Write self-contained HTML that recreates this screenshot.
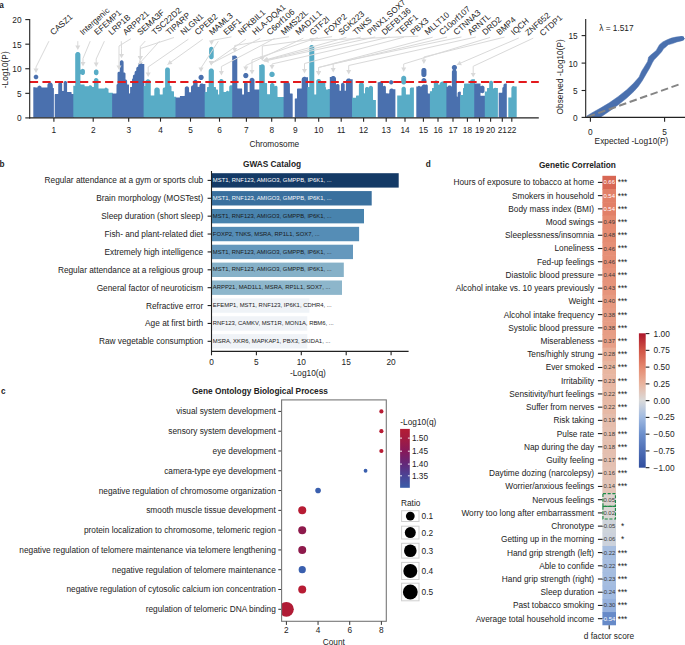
<!DOCTYPE html>
<html><head><meta charset="utf-8"><style>
html,body{margin:0;padding:0;background:#fff;}
svg{display:block;}
text{font-family:"Liberation Sans", sans-serif;}
</style></head><body>
<svg width="685" height="645" viewBox="0 0 685 645">
<rect x="0" y="0" width="685" height="645" fill="#fff"/>
<g id="manh">
<path d="M33.72,77.25 L33.81,77.70 L33.99,78.11 L34.24,78.48 L34.56,78.80 L34.94,79.04 L35.36,79.21 L35.80,79.29 L36.25,79.28 L36.70,79.19 L37.11,79.01 L37.48,78.76 L37.80,78.44 L38.04,78.06 L38.21,77.64 L38.29,77.20 L38.28,76.75 L38.19,76.30 L38.01,75.89 L37.76,75.52 L37.44,75.20 L37.06,74.96 L36.64,74.79 L36.20,74.71 L35.75,74.72 L35.30,74.81 L34.89,74.99 L34.52,75.24 L34.20,75.56 L33.96,75.94 L33.79,76.36 L33.71,76.80Z M54.88,94.18 L54.72,94.44 L54.70,94.60 L54.70,116.80 L54.72,116.96 L54.88,117.22 L55.14,117.38 L55.30,117.40 L74.00,117.40 L74.00,94.00 L71.97,94.00 L71.74,93.93 L71.60,93.67 L71.58,92.54 L71.42,92.28 L71.16,92.12 L67.47,92.10 L67.17,91.96 L67.10,91.73 L67.09,82.56 L66.96,82.02 L66.58,81.48 L66.23,81.22 L65.86,81.07 L65.43,81.00 L64.94,81.07 L64.57,81.22 L64.22,81.48 L63.97,81.78 L63.78,82.18 L63.70,82.71 L63.70,90.63 L63.62,90.87 L63.40,90.99 L62.45,90.99 L62.23,90.87 L62.16,90.70 L62.15,84.14 L62.07,83.61 L61.90,83.21 L61.69,82.89 L61.31,82.55 L60.92,82.34 L60.42,82.21 L59.98,82.21 L59.48,82.34 L59.09,82.55 L58.80,82.79 L58.41,83.38 L58.26,83.99 L58.22,93.78 L58.11,93.93 L57.92,94.00 L55.30,94.00 L55.14,94.02Z M33.30,117.40 L53.30,117.40 L53.60,117.32 L53.82,117.10 L53.90,116.80 L53.90,88.60 L53.82,88.30 L53.60,88.08 L53.02,87.97 L52.83,87.79 L52.80,85.19 L52.69,84.44 L52.47,83.90 L52.17,83.47 L51.79,83.10 L51.35,82.81 L50.86,82.61 L50.39,82.52 L49.54,82.56 L48.80,82.83 L48.37,83.13 L48.03,83.47 L47.71,83.95 L47.46,84.64 L47.40,85.21 L47.40,87.27 L47.32,87.47 L47.10,87.59 L41.80,87.59 L41.63,87.52 L41.53,87.39 L41.48,86.85 L41.24,86.50 L40.83,86.34 L40.47,85.96 L40.18,85.76 L39.53,85.60 L39.18,85.64 L38.82,85.76 L38.53,85.96 L38.17,86.34 L37.76,86.50 L37.52,86.85 L37.47,87.39 L37.37,87.52 L37.20,87.59 L35.66,87.60 L35.12,87.31 L34.82,87.22 L33.30,87.20Z" fill="#4a70ae"/>
<path d="M93.90,72.91 L93.99,73.54 L94.19,74.01 L94.55,74.50 L94.95,74.83 L95.50,75.09 L96.00,75.19 L96.68,75.15 L97.26,74.94 L97.68,74.66 L98.00,74.34 L98.31,73.81 L98.45,73.38 L98.50,72.89 L98.49,71.50 L98.41,71.06 L98.24,70.64 L98.00,70.26 L97.68,69.94 L97.31,69.69 L96.90,69.51 L96.45,69.42 L96.00,69.41 L95.56,69.49 L95.14,69.66 L94.76,69.90 L94.44,70.22 L94.07,70.85 L93.91,71.50Z M73.30,117.40 L112.80,117.40 L112.80,92.70 L108.87,92.70 L108.63,92.62 L108.50,92.33 L108.50,89.20 L108.42,88.90 L108.32,88.78 L108.06,88.62 L107.49,88.56 L106.97,87.96 L106.41,87.66 L105.88,87.61 L105.40,87.73 L104.96,88.02 L104.59,88.51 L104.38,88.60 L98.87,88.60 L98.63,88.52 L98.50,88.23 L98.46,79.98 L98.31,79.49 L97.96,78.92 L97.45,78.47 L96.84,78.19 L96.40,78.11 L95.95,78.12 L95.14,78.36 L94.76,78.60 L94.44,78.92 L94.07,79.55 L93.94,79.98 L93.90,80.41 L93.90,86.63 L93.83,86.86 L93.68,86.97 L92.42,86.97 L92.28,86.85 L91.95,86.17 L91.59,85.77 L91.04,85.44 L90.47,85.31 L89.88,85.35 L89.38,85.52 L89.01,85.77 L88.57,86.24 L88.42,86.29 L84.90,86.29 L84.73,86.22 L84.63,86.08 L84.58,84.94 L84.42,84.68 L84.30,84.58 L84.00,84.50 L80.77,84.50 L80.48,84.37 L80.40,84.13 L80.43,74.34 L80.55,74.18 L80.81,74.13 L81.43,74.60 L81.81,74.82 L82.23,74.95 L82.67,75.00 L83.38,74.89 L84.10,74.51 L84.59,73.97 L84.90,73.22 L84.95,72.74 L84.93,70.80 L84.77,70.16 L84.42,69.60 L83.92,69.16 L83.32,68.89 L82.67,68.80 L82.02,68.91 L81.48,69.16 L80.81,69.67 L80.62,69.66 L80.43,69.48 L80.40,54.61 L80.34,54.06 L80.11,53.40 L79.83,52.97 L79.43,52.57 L79.00,52.29 L78.34,52.06 L77.83,52.00 L77.26,52.06 L76.60,52.29 L76.13,52.61 L75.62,53.18 L75.30,53.87 L75.20,54.59 L75.20,85.47 L75.12,85.67 L74.89,85.80 L73.30,85.82Z" fill="#58acc6"/>
<path d="M112.10,117.40 L144.30,117.40 L144.30,63.96 L142.30,63.96 L142.03,63.41 L141.61,62.96 L141.08,62.65 L140.48,62.51 L139.86,62.55 L139.28,62.76 L138.80,63.14 L138.44,63.64 L138.28,64.02 L138.21,64.42 L138.17,66.45 L137.98,66.63 L137.41,66.84 L137.06,67.07 L136.76,67.36 L136.52,67.71 L136.35,68.10 L136.26,68.51 L136.22,70.52 L136.06,70.69 L135.39,71.06 L134.94,71.56 L134.75,71.92 L134.61,72.47 L134.57,74.30 L134.47,74.44 L133.98,74.66 L133.54,75.00 L133.24,75.36 L133.00,75.86 L132.90,76.49 L132.89,78.21 L132.82,78.37 L132.25,78.94 L132.08,79.31 L132.01,79.67 L131.99,86.60 L131.87,86.82 L131.70,86.89 L130.54,86.92 L130.28,87.08 L130.12,87.34 L130.10,93.17 L130.03,93.36 L129.89,93.47 L129.33,93.50 L129.08,93.37 L129.00,93.13 L128.98,84.94 L128.82,84.68 L128.56,84.52 L127.40,84.49 L127.23,84.42 L127.13,84.29 L127.10,80.99 L127.03,80.54 L126.86,80.19 L126.57,79.86 L126.20,79.63 L125.67,79.46 L125.51,79.22 L125.50,73.71 L125.46,73.38 L125.25,72.96 L124.94,72.69 L124.50,72.52 L123.82,72.51 L123.68,72.41 L123.61,72.24 L123.60,62.21 L123.53,61.68 L123.29,61.17 L122.93,60.75 L122.45,60.46 L121.92,60.31 L121.36,60.33 L120.83,60.51 L120.47,60.75 L120.11,61.17 L119.87,61.68 L119.80,62.19 L119.79,71.56 L119.72,71.72 L119.58,71.83 L118.74,71.82 L118.14,72.07 L117.69,72.57 L117.51,73.12 L117.50,83.76 L117.41,84.01 L117.00,84.28 L116.74,84.55 L116.51,85.14 L116.49,93.10 L116.37,93.32 L116.17,93.40 L112.10,93.40Z" fill="#4a70ae"/>
<path d="M143.60,117.40 L176.20,117.40 L176.20,96.66 L174.20,96.66 L174.03,96.49 L173.98,91.64 L173.82,91.38 L173.56,91.22 L171.83,91.20 L171.57,91.06 L171.50,90.83 L171.47,86.47 L171.31,86.15 L171.05,85.92 L170.72,85.81 L170.13,85.83 L169.98,85.72 L169.91,85.55 L169.89,69.59 L169.79,69.08 L169.51,68.49 L169.18,68.08 L168.60,67.67 L168.17,67.50 L167.53,67.40 L167.06,67.44 L166.55,67.60 L166.14,67.82 L165.66,68.26 L165.37,68.70 L165.15,69.30 L165.10,69.81 L165.10,87.08 L165.02,87.27 L164.88,87.38 L164.08,87.47 L163.52,87.74 L163.04,88.22 L162.79,88.72 L162.70,89.31 L162.70,94.13 L162.63,94.36 L162.49,94.47 L160.17,94.50 L159.88,94.37 L159.80,94.13 L159.79,89.91 L159.58,89.07 L159.32,88.60 L159.01,88.23 L158.37,87.74 L157.62,87.46 L156.81,87.41 L156.03,87.60 L155.33,88.01 L154.78,88.60 L154.43,89.32 L154.30,90.14 L154.30,95.23 L154.23,95.46 L153.93,95.60 L151.12,95.60 L150.88,95.52 L150.75,95.23 L150.75,82.06 L150.70,81.54 L150.55,81.03 L150.14,80.33 L149.72,79.91 L149.02,79.50 L148.24,79.31 L147.43,79.36 L146.68,79.64 L146.04,80.13 L145.56,80.78 L145.36,81.28 L145.26,81.81 L145.22,85.78 L145.12,85.92 L144.95,85.99 L143.60,86.00Z" fill="#58acc6"/>
<path d="M198.52,77.68 L198.62,78.18 L198.82,78.65 L199.11,79.07 L199.47,79.43 L199.90,79.71 L200.37,79.90 L200.87,79.99 L201.38,79.98 L201.88,79.88 L202.35,79.68 L202.77,79.39 L203.13,79.03 L203.41,78.60 L203.60,78.13 L203.69,77.63 L203.68,77.12 L203.58,76.62 L203.38,76.15 L203.09,75.73 L202.73,75.37 L202.30,75.09 L201.83,74.90 L201.33,74.81 L200.82,74.82 L200.32,74.92 L199.85,75.12 L199.43,75.41 L199.07,75.77 L198.79,76.20 L198.60,76.67 L198.51,77.17Z M175.50,117.40 L205.40,117.40 L205.40,84.01 L203.40,84.01 L202.75,83.60 L202.01,83.41 L201.36,83.44 L200.91,83.57 L200.49,83.79 L200.12,84.08 L199.67,84.70 L199.44,85.36 L199.40,86.57 L199.32,86.77 L199.07,86.90 L197.82,86.87 L197.67,86.76 L197.60,86.57 L197.60,81.99 L197.55,81.54 L197.35,80.99 L197.12,80.63 L196.82,80.32 L196.46,80.07 L196.07,79.90 L195.37,79.80 L194.94,79.85 L194.53,79.98 L194.15,80.19 L193.72,80.58 L193.45,80.99 L193.29,81.39 L193.20,81.99 L193.17,85.09 L192.99,85.27 L192.32,85.39 L191.72,85.71 L191.31,86.17 L191.07,86.68 L191.00,87.21 L191.00,91.93 L190.87,92.22 L190.63,92.30 L189.38,92.30 L189.19,92.23 L189.08,92.09 L189.04,88.21 L188.90,87.65 L188.58,87.11 L188.12,86.68 L187.55,86.40 L186.93,86.30 L186.25,86.40 L185.73,86.65 L185.26,87.06 L184.93,87.60 L184.79,88.06 L184.75,95.53 L184.67,95.77 L184.38,95.90 L180.34,95.92 L180.20,95.98 L179.98,96.20 L179.90,96.50 L179.87,97.38 L179.77,97.52 L179.60,97.59 L175.50,97.60Z" fill="#4a70ae"/>
<path d="M209.10,56.91 L209.27,57.75 L209.64,58.38 L209.96,58.70 L210.34,58.94 L211.15,59.18 L211.88,59.15 L212.31,59.01 L212.70,58.79 L213.29,58.20 L213.61,57.54 L213.70,56.89 L213.68,48.85 L213.51,48.19 L213.16,47.62 L212.65,47.17 L212.04,46.89 L211.60,46.81 L211.15,46.82 L210.70,46.91 L210.29,47.09 L209.92,47.34 L209.60,47.66 L209.36,48.04 L209.19,48.46 L209.10,49.11Z M204.70,117.40 L232.90,117.40 L232.90,85.30 L230.62,85.34 L229.98,85.62 L229.49,86.13 L229.29,86.55 L229.21,86.95 L229.20,91.02 L229.17,91.18 L229.05,91.32 L228.79,91.38 L228.05,90.90 L227.68,90.81 L227.32,90.81 L226.95,90.90 L226.57,91.12 L226.27,91.44 L226.04,91.87 L225.89,91.98 L223.81,91.97 L223.67,91.86 L223.60,91.63 L223.60,81.21 L223.51,80.59 L223.35,80.19 L223.08,79.78 L222.65,79.39 L222.21,79.16 L221.64,79.01 L221.21,79.01 L220.73,79.10 L220.20,79.36 L219.82,79.67 L219.56,80.00 L219.30,80.53 L219.21,81.01 L219.19,94.20 L219.07,94.42 L218.90,94.49 L218.33,94.50 L218.13,94.42 L218.00,94.13 L218.00,90.20 L217.92,89.90 L217.70,89.68 L217.56,89.62 L216.33,89.60 L216.08,89.47 L216.00,89.23 L216.00,87.70 L215.92,87.40 L215.82,87.28 L215.70,87.18 L215.40,87.10 L214.20,87.09 L214.03,87.02 L213.91,86.80 L213.88,70.82 L213.78,70.32 L213.61,69.90 L213.12,69.24 L212.50,68.79 L212.03,68.60 L211.58,68.52 L211.07,68.51 L210.57,68.60 L210.10,68.79 L209.67,69.07 L209.31,69.43 L209.02,69.85 L208.75,70.62 L208.70,71.11 L208.67,86.88 L208.57,87.02 L208.40,87.09 L207.44,87.12 L207.18,87.28 L207.02,87.54 L207.00,91.63 L206.92,91.87 L206.63,92.00 L204.70,92.00Z" fill="#58acc6"/>
<path d="M243.22,75.88 L243.32,76.38 L243.52,76.85 L243.81,77.27 L244.17,77.63 L244.60,77.91 L245.07,78.10 L245.57,78.19 L246.08,78.18 L246.58,78.08 L247.05,77.88 L247.47,77.59 L247.83,77.23 L248.11,76.80 L248.30,76.33 L248.39,75.83 L248.38,75.32 L248.28,74.82 L248.08,74.35 L247.79,73.93 L247.43,73.57 L247.00,73.29 L246.53,73.10 L246.03,73.01 L245.52,73.02 L245.02,73.12 L244.55,73.32 L244.13,73.61 L243.77,73.97 L243.49,74.40 L243.30,74.87 L243.21,75.37Z M232.20,117.40 L259.90,117.40 L259.90,89.60 L254.87,89.60 L254.57,89.46 L254.50,89.23 L254.50,80.26 L254.46,79.80 L254.20,79.07 L253.92,78.67 L253.63,78.38 L253.01,78.00 L252.26,77.81 L251.78,77.82 L251.31,77.92 L250.87,78.10 L250.52,78.34 L250.00,78.91 L249.78,79.34 L249.64,79.80 L249.60,80.26 L249.60,91.63 L249.46,91.93 L249.23,92.00 L248.03,92.00 L247.84,91.93 L247.73,91.78 L247.69,83.74 L247.55,83.22 L247.30,82.80 L246.90,82.43 L246.41,82.19 L246.00,82.11 L245.64,82.11 L244.95,82.33 L244.56,82.62 L244.33,82.90 L244.04,83.56 L244.00,83.96 L244.00,94.13 L243.86,94.43 L243.63,94.50 L242.43,94.50 L242.24,94.43 L242.13,94.28 L242.10,89.00 L242.02,88.70 L241.92,88.58 L241.80,88.48 L241.50,88.40 L237.67,88.40 L237.37,88.26 L237.30,88.03 L237.29,57.87 L237.20,57.37 L237.01,56.90 L236.52,56.24 L236.17,55.96 L235.72,55.71 L235.24,55.56 L234.73,55.50 L234.16,55.56 L233.50,55.79 L232.20,55.79Z" fill="#4a70ae"/>
<path d="M269.32,74.69 L269.43,75.21 L269.63,75.70 L269.93,76.13 L270.31,76.50 L270.75,76.79 L271.24,76.99 L271.76,77.09 L272.29,77.08 L272.81,76.97 L273.30,76.77 L273.73,76.47 L274.10,76.09 L274.39,75.65 L274.59,75.16 L274.69,74.64 L274.68,74.11 L274.57,73.59 L274.37,73.10 L274.07,72.67 L273.69,72.30 L273.25,72.01 L272.76,71.81 L272.24,71.71 L271.71,71.72 L271.19,71.83 L270.70,72.03 L270.27,72.33 L269.90,72.71 L269.61,73.15 L269.41,73.64 L269.31,74.16Z M259.20,117.40 L284.30,117.40 L284.30,97.00 L277.87,97.00 L277.58,96.87 L277.50,96.63 L277.50,87.31 L277.43,86.84 L277.26,86.49 L277.04,86.22 L276.73,85.99 L276.41,85.86 L275.74,85.82 L275.40,85.93 L274.93,86.19 L274.65,86.13 L274.51,85.91 L274.45,84.78 L274.14,84.03 L273.86,83.68 L273.52,83.40 L273.08,83.16 L272.66,83.04 L272.22,83.00 L271.78,83.05 L271.36,83.18 L270.98,83.40 L270.64,83.68 L270.36,84.03 L270.05,84.78 L270.00,85.26 L269.97,93.99 L269.86,94.13 L269.63,94.20 L267.47,94.20 L267.17,94.06 L267.10,93.83 L267.08,83.44 L266.92,83.18 L266.66,83.02 L265.05,82.99 L264.83,82.87 L264.75,82.67 L264.75,66.66 L264.71,66.20 L264.45,65.47 L264.21,65.12 L263.88,64.78 L263.26,64.40 L262.51,64.21 L261.85,64.24 L261.39,64.38 L260.92,64.63 L260.50,64.99 L259.20,64.99Z" fill="#58acc6"/>
<path d="M295.10,98.48 L294.88,98.70 L294.80,99.00 L294.80,116.80 L294.88,117.10 L295.10,117.32 L295.40,117.40 L308.00,117.40 L308.00,77.14 L306.00,77.14 L305.54,76.90 L305.07,76.76 L304.20,76.72 L303.46,76.90 L302.97,77.16 L302.54,77.50 L302.16,77.97 L301.81,78.72 L301.70,79.49 L301.67,88.38 L301.56,88.53 L301.33,88.60 L297.60,88.60 L297.30,88.68 L297.08,88.90 L297.00,89.20 L296.99,98.10 L296.87,98.32 L296.70,98.39 L295.40,98.40Z M292.26,117.38 L292.40,117.32 L292.62,117.10 L292.70,116.80 L292.68,93.94 L292.52,93.68 L292.26,93.52 L290.23,93.50 L290.04,93.43 L289.93,93.28 L289.90,84.59 L289.84,83.99 L289.56,83.21 L289.00,82.46 L288.29,81.94 L287.74,81.72 L287.22,81.62 L286.34,81.65 L285.51,81.94 L284.90,82.37 L283.60,82.37 L283.60,117.40Z" fill="#4a70ae"/>
<path d="M307.30,117.40 L330.50,117.40 L330.50,89.01 L328.39,89.02 L327.99,89.16 L327.55,89.54 L327.37,89.60 L326.33,89.60 L326.08,89.47 L326.00,89.23 L325.97,87.46 L325.78,87.17 L325.48,86.97 L325.40,86.77 L325.36,82.66 L325.13,82.01 L324.89,81.66 L324.59,81.37 L324.24,81.14 L323.85,80.99 L323.07,80.91 L322.40,81.08 L322.03,81.28 L321.60,81.63 L321.32,81.65 L321.13,81.47 L320.92,80.54 L320.52,79.87 L320.23,79.58 L319.83,79.30 L319.10,79.04 L318.44,79.01 L317.74,79.18 L317.12,79.54 L316.74,79.92 L316.50,80.27 L316.32,80.71 L316.20,81.44 L316.19,94.20 L316.07,94.42 L315.83,94.50 L314.60,94.49 L314.43,94.42 L314.31,94.20 L314.30,47.49 L314.26,47.04 L314.12,46.57 L313.89,46.14 L313.59,45.75 L313.21,45.44 L312.78,45.20 L312.02,45.01 L311.53,45.02 L311.05,45.12 L310.60,45.31 L310.19,45.59 L309.85,45.94 L309.58,46.35 L309.40,46.80 L309.31,47.28 L309.30,86.73 L309.22,86.97 L309.00,87.09 L307.30,87.10Z" fill="#58acc6"/>
<path d="M329.80,117.40 L352.70,117.40 L352.70,79.24 L350.70,79.24 L350.28,78.89 L349.74,78.60 L349.00,78.42 L348.45,78.41 L347.86,78.53 L347.35,78.75 L346.74,79.20 L346.36,79.67 L346.03,80.36 L345.91,80.95 L345.90,90.43 L345.83,90.66 L345.68,90.77 L344.92,90.77 L344.78,90.67 L344.71,90.50 L344.70,84.64 L344.66,84.26 L344.49,83.80 L344.26,83.45 L343.90,83.13 L343.53,82.93 L343.18,82.83 L342.70,82.81 L342.34,82.87 L342.00,83.01 L341.65,83.24 L341.21,83.80 L341.01,84.50 L340.99,90.50 L340.87,90.72 L340.70,90.79 L339.83,90.80 L339.63,90.72 L339.50,90.47 L339.50,85.74 L339.43,85.27 L339.28,84.90 L339.01,84.53 L338.75,84.31 L338.06,84.03 L337.61,84.01 L337.27,84.07 L336.39,84.53 L336.20,84.50 L336.03,84.31 L335.99,78.55 L335.80,77.76 L335.51,77.22 L335.00,76.66 L334.49,76.32 L333.98,76.11 L333.23,76.00 L332.63,76.06 L332.10,76.23 L331.62,76.49 L331.10,76.95 L329.80,76.95Z" fill="#4a70ae"/>
<path d="M352.00,117.40 L375.90,117.40 L375.90,99.90 L373.33,99.90 L373.14,99.83 L373.03,99.68 L372.99,87.77 L372.91,87.35 L372.73,86.91 L372.39,86.45 L372.02,86.15 L371.50,85.90 L371.09,85.81 L370.61,85.81 L370.05,85.95 L369.68,86.15 L369.31,86.45 L368.97,86.91 L368.73,87.45 L368.50,87.59 L368.30,87.56 L367.58,87.05 L367.00,86.91 L366.29,86.99 L365.95,87.13 L365.56,87.42 L365.21,87.90 L365.01,88.54 L364.99,93.10 L364.92,93.27 L364.78,93.37 L364.20,93.39 L363.98,93.27 L363.90,93.03 L363.90,84.89 L363.84,84.38 L363.62,83.75 L363.19,83.15 L362.76,82.81 L362.15,82.52 L361.43,82.40 L360.88,82.46 L360.20,82.71 L359.65,83.11 L359.31,83.54 L359.00,84.20 L358.90,84.89 L358.87,95.39 L358.76,95.53 L358.60,95.59 L356.60,95.60 L356.30,95.68 L356.18,95.78 L356.08,95.90 L356.00,96.20 L355.99,97.50 L355.92,97.67 L355.78,97.77 L352.00,97.80Z" fill="#58acc6"/>
<path d="M389.11,82.53 L389.20,82.94 L389.36,83.32 L389.60,83.65 L389.89,83.94 L390.24,84.16 L390.62,84.32 L391.02,84.39 L391.43,84.39 L391.84,84.30 L392.22,84.14 L392.55,83.90 L392.84,83.61 L393.06,83.26 L393.22,82.88 L393.29,82.48 L393.29,82.07 L393.20,81.66 L393.04,81.28 L392.80,80.95 L392.51,80.66 L392.16,80.44 L391.78,80.28 L391.38,80.21 L390.97,80.21 L390.56,80.30 L390.18,80.46 L389.85,80.70 L389.56,80.99 L389.34,81.34 L389.18,81.72 L389.11,82.12Z M377.70,117.40 L395.40,117.40 L395.40,89.29 L393.40,89.29 L392.73,88.76 L391.91,88.52 L391.22,88.54 L390.72,88.69 L390.18,89.02 L389.85,89.34 L389.59,89.72 L389.41,90.14 L389.31,90.65 L389.30,93.03 L389.22,93.27 L388.93,93.40 L386.11,93.37 L385.97,93.26 L385.90,93.03 L385.90,87.21 L385.78,86.64 L385.41,86.14 L385.13,85.95 L384.80,85.83 L384.20,85.83 L383.52,86.14 L383.34,86.13 L383.19,86.03 L383.10,85.78 L383.08,83.59 L382.84,82.77 L382.43,82.21 L382.03,81.88 L381.46,81.61 L380.95,81.51 L380.32,81.54 L379.88,81.67 L379.42,81.91 L379.00,82.29 L377.70,82.29Z" fill="#4a70ae"/>
<path d="M401.20,82.01 L401.32,82.75 L401.64,83.41 L401.95,83.79 L402.29,84.06 L402.95,84.38 L403.67,84.50 L404.45,84.38 L405.11,84.06 L405.45,83.79 L405.76,83.41 L406.02,82.93 L406.19,82.22 L406.19,78.08 L406.10,77.60 L405.89,77.10 L405.49,76.55 L405.11,76.24 L404.68,76.00 L404.22,75.86 L403.73,75.80 L403.24,75.84 L402.77,75.98 L402.34,76.21 L401.95,76.51 L401.64,76.89 L401.32,77.55 L401.21,78.08Z M397.20,117.40 L413.90,117.40 L413.90,87.43 L411.23,87.44 L410.60,87.71 L410.34,87.93 L410.07,88.30 L409.86,89.01 L409.85,94.13 L409.72,94.42 L409.48,94.50 L406.27,94.50 L406.03,94.42 L405.90,94.17 L405.90,88.89 L405.85,88.44 L405.65,87.89 L405.42,87.53 L405.12,87.22 L404.76,86.97 L404.37,86.80 L403.94,86.71 L403.51,86.71 L403.09,86.79 L402.69,86.95 L402.28,87.22 L401.89,87.65 L401.66,88.09 L401.51,88.66 L401.50,95.23 L401.43,95.46 L401.13,95.60 L397.20,95.61Z" fill="#58acc6"/>
<path d="M421.35,74.56 L421.47,75.32 L421.64,75.73 L421.91,76.14 L422.46,76.65 L423.19,77.00 L423.62,77.08 L424.12,77.09 L424.85,76.92 L425.54,76.50 L426.04,75.94 L426.33,75.32 L426.44,74.77 L426.44,70.23 L426.33,69.68 L426.04,69.06 L425.68,68.63 L425.29,68.31 L424.85,68.08 L424.37,67.94 L423.87,67.90 L423.37,67.96 L422.90,68.11 L422.46,68.35 L422.08,68.67 L421.76,69.06 L421.47,69.68 L421.36,70.23Z M421.42,80.87 L421.52,81.35 L421.71,81.80 L421.99,82.21 L422.34,82.55 L422.75,82.82 L423.20,83.00 L423.68,83.09 L424.17,83.08 L424.65,82.98 L425.10,82.79 L425.51,82.51 L425.85,82.16 L426.12,81.75 L426.30,81.30 L426.39,80.82 L426.38,80.33 L426.28,79.85 L426.09,79.40 L425.81,78.99 L425.46,78.65 L425.05,78.38 L424.60,78.20 L424.12,78.11 L423.63,78.12 L423.15,78.22 L422.70,78.41 L422.29,78.69 L421.95,79.04 L421.68,79.45 L421.50,79.90 L421.41,80.38Z M416.30,117.40 L430.60,117.40 L430.60,93.40 L428.13,93.40 L427.94,93.33 L427.83,93.19 L427.79,85.82 L427.67,85.40 L427.44,85.03 L427.11,84.74 L426.71,84.56 L426.04,84.52 L425.27,84.80 L424.70,84.60 L424.22,84.51 L423.73,84.52 L423.25,84.62 L422.64,84.91 L422.25,85.21 L421.91,85.64 L421.58,86.27 L421.36,86.39 L420.21,86.39 L419.59,85.94 L418.97,85.80 L418.41,85.94 L417.79,86.39 L416.30,86.43Z" fill="#4a70ae"/>
<path d="M429.90,117.40 L447.10,117.40 L447.10,82.67 L445.10,82.67 L444.42,82.05 L443.59,81.65 L442.68,81.50 L442.01,81.57 L441.14,81.89 L440.63,82.23 L440.23,82.63 L439.75,83.42 L439.48,84.49 L439.37,84.63 L439.18,84.70 L438.53,84.70 L438.33,84.62 L438.21,84.40 L438.20,82.59 L438.10,81.93 L437.81,81.35 L437.25,80.79 L436.81,80.56 L436.40,80.44 L435.97,80.40 L435.39,80.49 L434.94,80.67 L434.58,80.92 L434.28,81.23 L434.05,81.59 L433.85,82.14 L433.80,82.59 L433.77,87.79 L433.66,87.93 L433.50,87.99 L432.44,88.02 L432.30,88.08 L432.08,88.30 L432.00,88.60 L432.00,90.87 L431.87,91.12 L431.63,91.20 L429.90,91.20Z" fill="#58acc6"/>
<path d="M446.40,117.40 L460.80,117.40 L460.80,91.71 L460.00,91.71 L459.43,91.60 L459.02,91.64 L458.43,91.89 L457.99,92.28 L457.73,92.74 L457.61,93.25 L457.59,96.40 L457.52,96.57 L457.38,96.67 L457.13,96.70 L456.93,96.62 L456.80,96.33 L456.80,72.04 L456.75,71.54 L456.60,71.09 L456.37,70.67 L455.88,70.10 L455.84,69.93 L455.94,69.70 L456.54,69.07 L456.79,68.62 L456.95,68.08 L456.99,67.37 L456.79,66.58 L456.39,65.93 L456.03,65.57 L455.65,65.32 L454.88,65.05 L454.37,65.00 L453.86,65.06 L453.20,65.29 L452.77,65.57 L452.41,65.93 L452.12,66.35 L451.92,66.82 L451.82,67.32 L451.85,68.08 L452.01,68.62 L452.37,69.23 L452.85,69.71 L452.90,69.89 L452.82,70.12 L452.44,70.52 L452.18,70.92 L452.00,71.37 L451.91,71.84 L451.87,86.21 L451.70,86.40 L451.44,86.42 L450.89,85.87 L450.52,85.62 L449.96,85.43 L449.37,85.41 L448.81,85.56 L448.35,85.84 L447.95,86.27 L447.70,86.78 L446.40,86.78Z" fill="#4a70ae"/>
<path d="M460.10,117.40 L474.90,117.40 L474.90,79.36 L472.15,79.32 L471.49,79.49 L470.92,79.84 L470.47,80.35 L470.19,80.96 L470.10,81.59 L470.10,83.27 L470.03,83.46 L469.89,83.57 L464.60,83.60 L464.30,83.68 L464.08,83.90 L464.02,84.04 L463.99,87.70 L463.86,87.93 L463.44,88.02 L463.18,88.18 L463.08,88.30 L463.00,88.60 L462.97,94.78 L462.86,94.93 L462.67,95.00 L460.10,95.00Z" fill="#58acc6"/>
<path d="M474.20,117.40 L485.50,117.40 L485.50,95.80 L480.71,95.77 L480.57,95.66 L480.50,95.47 L480.50,93.02 L480.62,92.73 L480.86,92.65 L481.82,93.12 L482.37,93.20 L482.84,93.15 L483.23,93.03 L483.59,92.83 L483.90,92.56 L484.16,92.24 L484.40,91.74 L484.49,91.28 L484.50,87.71 L484.42,87.12 L484.24,86.68 L483.90,86.24 L483.54,85.94 L482.98,85.68 L482.58,85.61 L482.02,85.64 L481.57,85.77 L480.95,86.14 L480.78,86.14 L480.62,86.07 L480.50,85.82 L480.48,83.84 L480.32,83.58 L480.06,83.42 L474.20,83.40Z" fill="#4a70ae"/>
<path d="M484.80,117.40 L497.90,117.40 L497.90,87.96 L495.90,87.96 L495.48,87.84 L494.92,87.81 L494.52,87.88 L494.14,88.04 L493.49,88.50 L493.31,88.53 L493.08,88.41 L493.00,88.17 L493.00,82.61 L492.96,82.20 L492.76,81.68 L492.42,81.24 L491.97,80.91 L491.44,80.73 L490.88,80.71 L490.23,80.91 L489.74,81.28 L489.36,81.85 L489.20,82.59 L489.19,87.70 L489.12,87.87 L488.98,87.97 L487.44,88.02 L487.30,88.08 L487.08,88.30 L487.00,88.60 L487.00,91.23 L486.93,91.46 L486.67,91.60 L484.80,91.60Z" fill="#58acc6"/>
<path d="M498.70,117.40 L506.80,117.40 L506.80,83.62 L504.97,83.60 L504.59,83.66 L504.03,83.96 L503.66,84.42 L503.51,84.98 L503.47,86.84 L503.35,86.99 L502.96,87.17 L502.66,87.40 L502.44,87.71 L502.32,88.08 L502.30,92.33 L502.22,92.57 L501.93,92.70 L498.70,92.70Z" fill="#4a70ae"/>
<path d="M508.30,117.40 L516.70,117.40 L516.70,86.40 L514.70,86.40 L514.06,86.15 L513.36,86.11 L512.93,86.20 L512.54,86.37 L512.18,86.62 L511.88,86.93 L511.50,87.63 L511.40,88.29 L511.37,97.38 L511.26,97.53 L511.07,97.60 L508.30,97.60Z" fill="#58acc6"/>
</g>
<polyline points="48.90,41.20 36.00,67.00 36.00,69.50" fill="none" stroke="#d9d9d9" stroke-width="1.0" stroke-linejoin="round"/>
<polygon points="36.00,73.00 33.50,68.60 38.50,68.60" fill="#d9d9d9"/>
<polyline points="77.83,41.20 77.80,42.00 77.80,46.50" fill="none" stroke="#d9d9d9" stroke-width="1.0" stroke-linejoin="round"/>
<polygon points="77.80,50.00 75.30,45.60 80.30,45.60" fill="#d9d9d9"/>
<polyline points="90.20,41.20 83.00,58.50 83.00,63.00" fill="none" stroke="#d9d9d9" stroke-width="1.0" stroke-linejoin="round"/>
<polygon points="83.00,66.50 80.50,62.10 85.50,62.10" fill="#d9d9d9"/>
<polyline points="104.36,41.20 96.20,59.00 96.20,63.50" fill="none" stroke="#d9d9d9" stroke-width="1.0" stroke-linejoin="round"/>
<polygon points="96.20,67.00 93.70,62.60 98.70,62.60" fill="#d9d9d9"/>
<polyline points="121.27,41.20 121.50,48.30 121.50,54.80" fill="none" stroke="#d9d9d9" stroke-width="1.0" stroke-linejoin="round"/>
<polygon points="121.50,58.30 119.00,53.90 124.00,53.90" fill="#d9d9d9"/>
<polyline points="130.88,38.79 119.00,46.00 119.00,66.50" fill="none" stroke="#d9d9d9" stroke-width="1.0" stroke-linejoin="round"/>
<polygon points="119.00,70.00 116.50,65.60 121.50,65.60" fill="#d9d9d9"/>
<polyline points="145.25,41.06 140.30,46.50 140.30,57.00" fill="none" stroke="#d9d9d9" stroke-width="1.0" stroke-linejoin="round"/>
<polygon points="140.30,60.50 137.80,56.10 142.80,56.10" fill="#d9d9d9"/>
<line x1="159.62" y1="41.10" x2="138.40" y2="64.60" stroke="#d9d9d9" stroke-width="1.0"/>
<polygon points="138.40,64.60 139.49,59.66 143.20,63.01" fill="#d9d9d9"/>
<polyline points="173.99,37.50 140.30,48.50 140.30,57.00" fill="none" stroke="#d9d9d9" stroke-width="1.0" stroke-linejoin="round"/>
<polygon points="140.30,60.50 137.80,56.10 142.80,56.10" fill="#d9d9d9"/>
<polyline points="188.36,39.19 148.20,67.00 148.20,73.50" fill="none" stroke="#d9d9d9" stroke-width="1.0" stroke-linejoin="round"/>
<polygon points="148.20,77.00 145.70,72.60 150.70,72.60" fill="#d9d9d9"/>
<line x1="202.73" y1="39.29" x2="167.50" y2="64.50" stroke="#d9d9d9" stroke-width="1.0"/>
<polygon points="167.50,64.50 169.62,59.91 172.53,63.97" fill="#d9d9d9"/>
<polyline points="218.34,41.20 201.00,68.00 201.00,68.50" fill="none" stroke="#d9d9d9" stroke-width="1.0" stroke-linejoin="round"/>
<polygon points="201.00,72.00 198.50,67.60 203.50,67.60" fill="#d9d9d9"/>
<polyline points="231.47,36.84 211.50,40.50 211.50,41.50" fill="none" stroke="#d9d9d9" stroke-width="1.0" stroke-linejoin="round"/>
<polygon points="211.50,45.00 209.00,40.60 214.00,40.60" fill="#d9d9d9"/>
<polyline points="245.84,39.23 211.30,63.50 211.30,62.00" fill="none" stroke="#d9d9d9" stroke-width="1.0" stroke-linejoin="round"/>
<polygon points="211.30,65.50 208.80,61.10 213.80,61.10" fill="#d9d9d9"/>
<polyline points="260.21,38.36 211.30,63.50 211.30,62.00" fill="none" stroke="#d9d9d9" stroke-width="1.0" stroke-linejoin="round"/>
<polygon points="211.30,65.50 208.80,61.10 213.80,61.10" fill="#d9d9d9"/>
<polyline points="274.58,38.43 221.40,66.50 221.40,72.00" fill="none" stroke="#d9d9d9" stroke-width="1.0" stroke-linejoin="round"/>
<polygon points="221.40,75.50 218.90,71.10 223.90,71.10" fill="#d9d9d9"/>
<polyline points="288.95,36.74 234.70,45.50 234.70,49.00" fill="none" stroke="#d9d9d9" stroke-width="1.0" stroke-linejoin="round"/>
<polygon points="234.70,52.50 232.20,48.10 237.20,48.10" fill="#d9d9d9"/>
<polyline points="303.32,38.18 245.80,65.50 245.80,67.50" fill="none" stroke="#d9d9d9" stroke-width="1.0" stroke-linejoin="round"/>
<polygon points="245.80,71.00 243.30,66.60 248.30,66.60" fill="#d9d9d9"/>
<polyline points="317.69,37.57 252.00,60.00 252.00,71.00" fill="none" stroke="#d9d9d9" stroke-width="1.0" stroke-linejoin="round"/>
<polygon points="252.00,74.50 249.50,70.10 254.50,70.10" fill="#d9d9d9"/>
<polyline points="332.06,36.62 262.30,46.00 262.30,57.50" fill="none" stroke="#d9d9d9" stroke-width="1.0" stroke-linejoin="round"/>
<polygon points="262.30,61.00 259.80,56.60 264.80,56.60" fill="#d9d9d9"/>
<line x1="346.43" y1="37.29" x2="263.20" y2="60.60" stroke="#d9d9d9" stroke-width="1.0"/>
<polygon points="263.20,60.60 266.76,57.01 268.11,61.82" fill="#d9d9d9"/>
<line x1="360.80" y1="37.12" x2="263.60" y2="60.80" stroke="#d9d9d9" stroke-width="1.0"/>
<polygon points="263.60,60.80 267.28,57.33 268.47,62.19" fill="#d9d9d9"/>
<line x1="375.17" y1="37.00" x2="264.00" y2="61.20" stroke="#d9d9d9" stroke-width="1.0"/>
<polygon points="264.00,61.20 267.77,57.82 268.83,62.71" fill="#d9d9d9"/>
<polyline points="389.54,37.05 272.00,64.00 272.00,66.00" fill="none" stroke="#d9d9d9" stroke-width="1.0" stroke-linejoin="round"/>
<polygon points="272.00,69.50 269.50,65.10 274.50,65.10" fill="#d9d9d9"/>
<polyline points="403.91,37.22 304.50,63.50 304.50,70.00" fill="none" stroke="#d9d9d9" stroke-width="1.0" stroke-linejoin="round"/>
<polygon points="304.50,73.50 302.00,69.10 307.00,69.10" fill="#d9d9d9"/>
<polyline points="418.28,36.19 311.80,40.50 311.80,39.00" fill="none" stroke="#d9d9d9" stroke-width="1.0" stroke-linejoin="round"/>
<polygon points="311.80,42.50 309.30,38.10 314.30,38.10" fill="#d9d9d9"/>
<polyline points="432.65,37.22 318.60,67.50 318.60,72.00" fill="none" stroke="#d9d9d9" stroke-width="1.0" stroke-linejoin="round"/>
<polygon points="318.60,75.50 316.10,71.10 321.10,71.10" fill="#d9d9d9"/>
<polyline points="447.02,37.09 318.60,67.50 318.60,72.00" fill="none" stroke="#d9d9d9" stroke-width="1.0" stroke-linejoin="round"/>
<polygon points="318.60,75.50 316.10,71.10 321.10,71.10" fill="#d9d9d9"/>
<polyline points="461.39,36.95 333.20,63.50 333.20,69.00" fill="none" stroke="#d9d9d9" stroke-width="1.0" stroke-linejoin="round"/>
<polygon points="333.20,72.50 330.70,68.10 335.70,68.10" fill="#d9d9d9"/>
<polyline points="475.76,37.03 348.70,65.50 348.70,71.00" fill="none" stroke="#d9d9d9" stroke-width="1.0" stroke-linejoin="round"/>
<polygon points="348.70,74.50 346.20,70.10 351.20,70.10" fill="#d9d9d9"/>
<polyline points="490.13,37.41 403.70,64.00 403.70,68.50" fill="none" stroke="#d9d9d9" stroke-width="1.0" stroke-linejoin="round"/>
<polygon points="403.70,72.00 401.20,67.60 406.20,67.60" fill="#d9d9d9"/>
<polyline points="504.50,37.13 423.90,57.00 423.90,60.50" fill="none" stroke="#d9d9d9" stroke-width="1.0" stroke-linejoin="round"/>
<polygon points="423.90,64.00 421.40,59.60 426.40,59.60" fill="#d9d9d9"/>
<line x1="518.87" y1="37.98" x2="456.80" y2="64.70" stroke="#d9d9d9" stroke-width="1.0"/>
<polygon points="456.80,64.70 459.85,60.66 461.83,65.26" fill="#d9d9d9"/>
<polyline points="533.24,38.16 473.20,66.30 473.20,73.80" fill="none" stroke="#d9d9d9" stroke-width="1.0" stroke-linejoin="round"/>
<polygon points="473.20,77.30 470.70,72.90 475.70,72.90" fill="#d9d9d9"/>
<line x1="29.90" y1="82.00" x2="538.80" y2="82.00" stroke="#e3191c" stroke-width="2.0" stroke-dasharray="8.2 4.33"/>
<line x1="29.70" y1="19.10" x2="29.70" y2="118.40" stroke="#222222" stroke-width="1.1"/>
<line x1="29.20" y1="117.90" x2="538.80" y2="117.90" stroke="#222222" stroke-width="1.1"/>
<line x1="25.30" y1="117.90" x2="29.70" y2="117.90" stroke="#222222" stroke-width="1.1"/>
<text x="21.60" y="121.25" font-size="8.3" text-anchor="end" fill="#222222">0</text>
<line x1="25.30" y1="93.33" x2="29.70" y2="93.33" stroke="#222222" stroke-width="1.1"/>
<text x="21.60" y="96.67" font-size="8.3" text-anchor="end" fill="#222222">5</text>
<line x1="25.30" y1="68.75" x2="29.70" y2="68.75" stroke="#222222" stroke-width="1.1"/>
<text x="21.60" y="72.10" font-size="8.3" text-anchor="end" fill="#222222">10</text>
<line x1="25.30" y1="44.18" x2="29.70" y2="44.18" stroke="#222222" stroke-width="1.1"/>
<text x="21.60" y="47.53" font-size="8.3" text-anchor="end" fill="#222222">15</text>
<line x1="25.30" y1="19.60" x2="29.70" y2="19.60" stroke="#222222" stroke-width="1.1"/>
<text x="21.60" y="22.95" font-size="8.3" text-anchor="end" fill="#222222">20</text>
<line x1="53.90" y1="117.90" x2="53.90" y2="121.70" stroke="#222222" stroke-width="1.1"/>
<text x="53.90" y="133.00" font-size="8.3" text-anchor="middle" fill="#222222">1</text>
<line x1="93.20" y1="117.90" x2="93.20" y2="121.70" stroke="#222222" stroke-width="1.1"/>
<text x="93.20" y="133.00" font-size="8.3" text-anchor="middle" fill="#222222">2</text>
<line x1="128.70" y1="117.90" x2="128.70" y2="121.70" stroke="#222222" stroke-width="1.1"/>
<text x="128.70" y="133.00" font-size="8.3" text-anchor="middle" fill="#222222">3</text>
<line x1="160.50" y1="117.90" x2="160.50" y2="121.70" stroke="#222222" stroke-width="1.1"/>
<text x="160.50" y="133.00" font-size="8.3" text-anchor="middle" fill="#222222">4</text>
<line x1="190.50" y1="117.90" x2="190.50" y2="121.70" stroke="#222222" stroke-width="1.1"/>
<text x="190.50" y="133.00" font-size="8.3" text-anchor="middle" fill="#222222">5</text>
<line x1="219.50" y1="117.90" x2="219.50" y2="121.70" stroke="#222222" stroke-width="1.1"/>
<text x="219.50" y="133.00" font-size="8.3" text-anchor="middle" fill="#222222">6</text>
<line x1="246.40" y1="117.90" x2="246.40" y2="121.70" stroke="#222222" stroke-width="1.1"/>
<text x="246.40" y="133.00" font-size="8.3" text-anchor="middle" fill="#222222">7</text>
<line x1="271.70" y1="117.90" x2="271.70" y2="121.70" stroke="#222222" stroke-width="1.1"/>
<text x="271.70" y="133.00" font-size="8.3" text-anchor="middle" fill="#222222">8</text>
<line x1="295.20" y1="117.90" x2="295.20" y2="121.70" stroke="#222222" stroke-width="1.1"/>
<text x="295.20" y="133.00" font-size="8.3" text-anchor="middle" fill="#222222">9</text>
<line x1="318.70" y1="117.90" x2="318.70" y2="121.70" stroke="#222222" stroke-width="1.1"/>
<text x="318.70" y="133.00" font-size="8.3" text-anchor="middle" fill="#222222">10</text>
<line x1="341.20" y1="117.90" x2="341.20" y2="121.70" stroke="#222222" stroke-width="1.1"/>
<text x="341.20" y="133.00" font-size="8.3" text-anchor="middle" fill="#222222">11</text>
<line x1="363.60" y1="117.90" x2="363.60" y2="121.70" stroke="#222222" stroke-width="1.1"/>
<text x="363.60" y="133.00" font-size="8.3" text-anchor="middle" fill="#222222">12</text>
<line x1="386.20" y1="117.90" x2="386.20" y2="121.70" stroke="#222222" stroke-width="1.1"/>
<text x="386.20" y="133.00" font-size="8.3" text-anchor="middle" fill="#222222">13</text>
<line x1="405.00" y1="117.90" x2="405.00" y2="121.70" stroke="#222222" stroke-width="1.1"/>
<text x="405.00" y="133.00" font-size="8.3" text-anchor="middle" fill="#222222">14</text>
<line x1="423.40" y1="117.90" x2="423.40" y2="121.70" stroke="#222222" stroke-width="1.1"/>
<text x="423.40" y="133.00" font-size="8.3" text-anchor="middle" fill="#222222">15</text>
<line x1="438.00" y1="117.90" x2="438.00" y2="121.70" stroke="#222222" stroke-width="1.1"/>
<text x="438.00" y="133.00" font-size="8.3" text-anchor="middle" fill="#222222">16</text>
<line x1="453.00" y1="117.90" x2="453.00" y2="121.70" stroke="#222222" stroke-width="1.1"/>
<text x="453.00" y="133.00" font-size="8.3" text-anchor="middle" fill="#222222">17</text>
<line x1="467.40" y1="117.90" x2="467.40" y2="121.70" stroke="#222222" stroke-width="1.1"/>
<text x="467.40" y="133.00" font-size="8.3" text-anchor="middle" fill="#222222">18</text>
<line x1="479.50" y1="117.90" x2="479.50" y2="121.70" stroke="#222222" stroke-width="1.1"/>
<text x="479.50" y="133.00" font-size="8.3" text-anchor="middle" fill="#222222">19</text>
<line x1="490.60" y1="117.90" x2="490.60" y2="121.70" stroke="#222222" stroke-width="1.1"/>
<text x="490.60" y="133.00" font-size="8.3" text-anchor="middle" fill="#222222">20</text>
<line x1="502.30" y1="117.90" x2="502.30" y2="121.70" stroke="#222222" stroke-width="1.1"/>
<text x="502.30" y="133.00" font-size="8.3" text-anchor="middle" fill="#222222">21</text>
<line x1="511.80" y1="117.90" x2="511.80" y2="121.70" stroke="#222222" stroke-width="1.1"/>
<text x="511.80" y="133.00" font-size="8.3" text-anchor="middle" fill="#222222">22</text>
<text x="274.30" y="146.60" font-size="8.3" text-anchor="middle" fill="#222222">Chromosome</text>
<text x="7.90" y="69.80" font-size="8.3" text-anchor="middle" fill="#222222" transform="rotate(-90 7.9 69.8)">-Log10(P)</text>
<text x="-0.80" y="7.90" font-size="8.2" text-anchor="start" font-weight="bold" fill="#222222">a</text>
<text x="53.30" y="35.60" font-size="8.3" text-anchor="start" fill="#222222" transform="rotate(-42 53.3 35.6)">CASZ1</text>
<text x="82.90" y="35.60" font-size="8.3" text-anchor="start" fill="#222222" transform="rotate(-42 82.9 35.6)">Intergenic</text>
<text x="97.27" y="35.60" font-size="8.3" text-anchor="start" fill="#222222" transform="rotate(-42 97.27000000000001 35.6)">EFEMP1</text>
<text x="111.64" y="35.60" font-size="8.3" text-anchor="start" fill="#222222" transform="rotate(-42 111.64 35.6)">LRP1B</text>
<text x="126.01" y="35.60" font-size="8.3" text-anchor="start" fill="#222222" transform="rotate(-42 126.01 35.6)">ARPP21</text>
<text x="140.38" y="35.60" font-size="8.3" text-anchor="start" fill="#222222" transform="rotate(-42 140.38 35.6)">SEMA3F</text>
<text x="154.75" y="35.60" font-size="8.3" text-anchor="start" fill="#222222" transform="rotate(-42 154.75 35.6)">TSC22D2</text>
<text x="169.12" y="35.60" font-size="8.3" text-anchor="start" fill="#222222" transform="rotate(-42 169.12 35.6)">TIPARP</text>
<text x="183.49" y="35.60" font-size="8.3" text-anchor="start" fill="#222222" transform="rotate(-42 183.49 35.6)">NLGN1</text>
<text x="197.86" y="35.60" font-size="8.3" text-anchor="start" fill="#222222" transform="rotate(-42 197.86 35.6)">CPEB2</text>
<text x="212.23" y="35.60" font-size="8.3" text-anchor="start" fill="#222222" transform="rotate(-42 212.23 35.6)">MAML3</text>
<text x="226.60" y="35.60" font-size="8.3" text-anchor="start" fill="#222222" transform="rotate(-42 226.6 35.6)">EBF1</text>
<text x="240.97" y="35.60" font-size="8.3" text-anchor="start" fill="#222222" transform="rotate(-42 240.97 35.6)">NFKBIL1</text>
<text x="255.34" y="35.60" font-size="8.3" text-anchor="start" fill="#222222" transform="rotate(-42 255.34 35.6)">HLA-DQA1</text>
<text x="269.71" y="35.60" font-size="8.3" text-anchor="start" fill="#222222" transform="rotate(-42 269.71000000000004 35.6)">C6orf106</text>
<text x="284.08" y="35.60" font-size="8.3" text-anchor="start" fill="#222222" transform="rotate(-42 284.08 35.6)">MMS22L</text>
<text x="298.45" y="35.60" font-size="8.3" text-anchor="start" fill="#222222" transform="rotate(-42 298.45 35.6)">MAD1L1</text>
<text x="312.82" y="35.60" font-size="8.3" text-anchor="start" fill="#222222" transform="rotate(-42 312.82 35.6)">GTF2I</text>
<text x="327.19" y="35.60" font-size="8.3" text-anchor="start" fill="#222222" transform="rotate(-42 327.19 35.6)">FOXP2</text>
<text x="341.56" y="35.60" font-size="8.3" text-anchor="start" fill="#222222" transform="rotate(-42 341.55999999999995 35.6)">SGK223</text>
<text x="355.93" y="35.60" font-size="8.3" text-anchor="start" fill="#222222" transform="rotate(-42 355.92999999999995 35.6)">TNKS</text>
<text x="370.30" y="35.60" font-size="8.3" text-anchor="start" fill="#222222" transform="rotate(-42 370.29999999999995 35.6)">PINX1,SOX7</text>
<text x="384.67" y="35.60" font-size="8.3" text-anchor="start" fill="#222222" transform="rotate(-42 384.66999999999996 35.6)">DEFB136</text>
<text x="399.04" y="35.60" font-size="8.3" text-anchor="start" fill="#222222" transform="rotate(-42 399.03999999999996 35.6)">TERF1</text>
<text x="413.41" y="35.60" font-size="8.3" text-anchor="start" fill="#222222" transform="rotate(-42 413.40999999999997 35.6)">PBX3</text>
<text x="427.78" y="35.60" font-size="8.3" text-anchor="start" fill="#222222" transform="rotate(-42 427.78 35.6)">MLLT10</text>
<text x="442.15" y="35.60" font-size="8.3" text-anchor="start" fill="#222222" transform="rotate(-42 442.15 35.6)">C10orf107</text>
<text x="456.52" y="35.60" font-size="8.3" text-anchor="start" fill="#222222" transform="rotate(-42 456.52 35.6)">CTNNA3</text>
<text x="470.89" y="35.60" font-size="8.3" text-anchor="start" fill="#222222" transform="rotate(-42 470.89 35.6)">ARNTL</text>
<text x="485.26" y="35.60" font-size="8.3" text-anchor="start" fill="#222222" transform="rotate(-42 485.26 35.6)">DRD2</text>
<text x="499.63" y="35.60" font-size="8.3" text-anchor="start" fill="#222222" transform="rotate(-42 499.63 35.6)">BMP4</text>
<text x="514.00" y="35.60" font-size="8.3" text-anchor="start" fill="#222222" transform="rotate(-42 514.0 35.6)">IQCH</text>
<text x="528.37" y="36.10" font-size="8.3" text-anchor="start" fill="#222222" transform="rotate(-42 528.37 36.1)">ZNF652</text>
<text x="542.74" y="36.60" font-size="8.3" text-anchor="start" fill="#222222" transform="rotate(-42 542.74 36.6)">CTDP1</text>
<polygon points="586.5,116.3 591.8,112.9 600.5,108.1 609.3,102.8 618.0,96.7 626.8,89.7 633.8,83.1 639.1,77.0 641.6,71.2 644.3,66.9 647.6,61.5 648.6,57.1 650.8,55.0 656.2,50.6 657.9,47.4 659.5,44.7 662.8,41.9 667.1,39.8 671.4,38.1 675.8,37.1 680.1,36.5 683.4,37.6 684.6,38.7 683.4,39.8 681.2,40.9 676.9,41.9 672.5,43.6 668.2,44.7 666.6,46.3 663.3,49.0 661.7,51.7 657.3,56.6 654.1,59.8 652.4,62.6 649.7,68.0 646.5,73.4 642.1,81.0 638.3,86.4 633.8,91.5 626.8,98.0 618.0,105.0 609.3,111.2 600.5,117.2 588.5,117.4" fill="#4a70ae" stroke="#4a70ae" stroke-width="0.5" stroke-linejoin="round"/>
<circle cx="681.90" cy="38.40" r="2.40" fill="#4a70ae"/>
<line x1="587.80" y1="116.90" x2="680.60" y2="83.90" stroke="#858585" stroke-width="2.0" stroke-dasharray="7.5 3.6"/>
<line x1="585.70" y1="19.10" x2="585.70" y2="118.00" stroke="#222222" stroke-width="1.1"/>
<line x1="585.70" y1="117.40" x2="685.00" y2="117.40" stroke="#222222" stroke-width="1.1"/>
<line x1="581.60" y1="117.40" x2="585.70" y2="117.40" stroke="#222222" stroke-width="1.1"/>
<text x="577.70" y="120.85" font-size="8.3" text-anchor="end" fill="#222222">0</text>
<line x1="581.60" y1="90.50" x2="585.70" y2="90.50" stroke="#222222" stroke-width="1.1"/>
<text x="577.70" y="93.95" font-size="8.3" text-anchor="end" fill="#222222">5</text>
<line x1="581.60" y1="63.10" x2="585.70" y2="63.10" stroke="#222222" stroke-width="1.1"/>
<text x="577.70" y="66.55" font-size="8.3" text-anchor="end" fill="#222222">10</text>
<line x1="581.60" y1="35.60" x2="585.70" y2="35.60" stroke="#222222" stroke-width="1.1"/>
<text x="577.70" y="39.05" font-size="8.3" text-anchor="end" fill="#222222">15</text>
<line x1="590.40" y1="117.40" x2="590.40" y2="121.70" stroke="#222222" stroke-width="1.1"/>
<text x="590.40" y="135.10" font-size="8.3" text-anchor="middle" fill="#222222">0</text>
<line x1="664.60" y1="117.40" x2="664.60" y2="121.70" stroke="#222222" stroke-width="1.1"/>
<text x="664.60" y="135.10" font-size="8.3" text-anchor="middle" fill="#222222">5</text>
<text x="631.50" y="144.00" font-size="8.3" text-anchor="middle" fill="#222222">Expected -Log10(P)</text>
<text x="563.40" y="76.80" font-size="8.3" text-anchor="middle" fill="#222222" transform="rotate(-90 563.4 76.8)">Observed -Log10(P)</text>
<text x="599.20" y="31.10" font-size="8.3" text-anchor="start" fill="#222222">λ = 1.517</text>
<text x="-0.40" y="166.80" font-size="8.2" text-anchor="start" font-weight="bold" fill="#222222">b</text>
<text x="272.00" y="167.30" font-size="8.3" text-anchor="middle" font-weight="bold" fill="#222222">GWAS Catalog</text>
<rect x="211.50" y="173.20" width="187.20" height="14.40" fill="#143a66"/>
<text x="212.80" y="182.00" font-size="5.9" text-anchor="start" fill="#ffffff">MST1, RNF123, AMIGO3, GMPPB, IP6K1, ...</text>
<line x1="207.60" y1="180.40" x2="211.50" y2="180.40" stroke="#222222" stroke-width="1.1"/>
<text x="203.20" y="183.35" font-size="8.3" text-anchor="end" fill="#222222">Regular attendance at a gym or sports club</text>
<rect x="211.50" y="191.08" width="160.20" height="14.40" fill="#3a709e"/>
<text x="212.80" y="199.88" font-size="5.9" text-anchor="start" fill="#f4f7fa">MST1, RNF123, AMIGO3, GMPPB, IP6K1, ...</text>
<line x1="207.60" y1="198.28" x2="211.50" y2="198.28" stroke="#222222" stroke-width="1.1"/>
<text x="203.20" y="201.23" font-size="8.3" text-anchor="end" fill="#222222">Brain morphology (MOSTest)</text>
<rect x="211.50" y="208.96" width="152.50" height="14.40" fill="#4883ad"/>
<text x="212.80" y="217.76" font-size="5.9" text-anchor="start" fill="#1a1a1a">MST1, RNF123, AMIGO3, GMPPB, IP6K1, ...</text>
<line x1="207.60" y1="216.16" x2="211.50" y2="216.16" stroke="#222222" stroke-width="1.1"/>
<text x="203.20" y="219.11" font-size="8.3" text-anchor="end" fill="#222222">Sleep duration (short sleep)</text>
<rect x="211.50" y="226.84" width="147.60" height="14.40" fill="#558db6"/>
<text x="212.80" y="235.64" font-size="5.9" text-anchor="start" fill="#1a1a1a">FOXP2, TNKS, MSRA, RP1L1, SOX7, ...</text>
<line x1="207.60" y1="234.04" x2="211.50" y2="234.04" stroke="#222222" stroke-width="1.1"/>
<text x="203.20" y="236.99" font-size="8.3" text-anchor="end" fill="#222222">Fish- and plant-related diet</text>
<rect x="211.50" y="244.72" width="141.50" height="14.40" fill="#6598bd"/>
<text x="212.80" y="253.52" font-size="5.9" text-anchor="start" fill="#1a1a1a">MST1, RNF123, AMIGO3, GMPPB, IP6K1, ...</text>
<line x1="207.60" y1="251.92" x2="211.50" y2="251.92" stroke="#222222" stroke-width="1.1"/>
<text x="203.20" y="254.87" font-size="8.3" text-anchor="end" fill="#222222">Extremely high intelligence</text>
<rect x="211.50" y="262.60" width="132.30" height="14.40" fill="#86b1c8"/>
<text x="212.80" y="271.40" font-size="5.9" text-anchor="start" fill="#1a1a1a">MST1, RNF123, AMIGO3, GMPPB, IP6K1, ...</text>
<line x1="207.60" y1="269.80" x2="211.50" y2="269.80" stroke="#222222" stroke-width="1.1"/>
<text x="203.20" y="272.75" font-size="8.3" text-anchor="end" fill="#222222">Regular attendance at a religious group</text>
<rect x="211.50" y="280.48" width="130.50" height="14.40" fill="#8db6cb"/>
<text x="212.80" y="289.28" font-size="5.9" text-anchor="start" fill="#1a1a1a">ARPP21, MAD1L1, MSRA, RP1L1, SOX7, ...</text>
<line x1="207.60" y1="287.68" x2="211.50" y2="287.68" stroke="#222222" stroke-width="1.1"/>
<text x="203.20" y="290.63" font-size="8.3" text-anchor="end" fill="#222222">General factor of neuroticism</text>
<rect x="211.50" y="298.36" width="97.90" height="14.40" fill="#eff3f7"/>
<text x="212.80" y="307.16" font-size="5.9" text-anchor="start" fill="#1a1a1a">EFEMP1, MST1, RNF123, IP6K1, CDHR4, ...</text>
<line x1="207.60" y1="305.56" x2="211.50" y2="305.56" stroke="#222222" stroke-width="1.1"/>
<text x="203.20" y="308.51" font-size="8.3" text-anchor="end" fill="#222222">Refractive error</text>
<rect x="211.50" y="316.24" width="95.80" height="14.40" fill="#f0f3f7"/>
<text x="212.80" y="325.04" font-size="5.9" text-anchor="start" fill="#1a1a1a">RNF123, CAMKV, MST1R, MON1A, RBM6, ...</text>
<line x1="207.60" y1="323.44" x2="211.50" y2="323.44" stroke="#222222" stroke-width="1.1"/>
<text x="203.20" y="326.39" font-size="8.3" text-anchor="end" fill="#222222">Age at first birth</text>
<rect x="211.50" y="334.12" width="95.80" height="14.40" fill="#f0f3f7"/>
<text x="212.80" y="342.92" font-size="5.9" text-anchor="start" fill="#1a1a1a">MSRA, XKR6, MAPKAP1, PBX3, SKIDA1, ...</text>
<line x1="207.60" y1="341.32" x2="211.50" y2="341.32" stroke="#222222" stroke-width="1.1"/>
<text x="203.20" y="344.27" font-size="8.3" text-anchor="end" fill="#222222">Raw vegetable consumption</text>
<line x1="211.50" y1="171.00" x2="211.50" y2="351.90" stroke="#222222" stroke-width="1.1"/>
<line x1="211.00" y1="351.40" x2="408.60" y2="351.40" stroke="#222222" stroke-width="1.1"/>
<line x1="211.50" y1="351.40" x2="211.50" y2="355.30" stroke="#222222" stroke-width="1.1"/>
<text x="211.50" y="365.30" font-size="8.3" text-anchor="middle" fill="#222222">0</text>
<line x1="256.40" y1="351.40" x2="256.40" y2="355.30" stroke="#222222" stroke-width="1.1"/>
<text x="256.40" y="365.30" font-size="8.3" text-anchor="middle" fill="#222222">5</text>
<line x1="301.30" y1="351.40" x2="301.30" y2="355.30" stroke="#222222" stroke-width="1.1"/>
<text x="301.30" y="365.30" font-size="8.3" text-anchor="middle" fill="#222222">10</text>
<line x1="346.20" y1="351.40" x2="346.20" y2="355.30" stroke="#222222" stroke-width="1.1"/>
<text x="346.20" y="365.30" font-size="8.3" text-anchor="middle" fill="#222222">15</text>
<line x1="391.10" y1="351.40" x2="391.10" y2="355.30" stroke="#222222" stroke-width="1.1"/>
<text x="391.10" y="365.30" font-size="8.3" text-anchor="middle" fill="#222222">20</text>
<text x="307.90" y="375.50" font-size="8.3" text-anchor="middle" fill="#222222">-Log10(q)</text>
<text x="0.90" y="393.60" font-size="8.2" text-anchor="start" font-weight="bold" fill="#222222">c</text>
<text x="259.90" y="393.60" font-size="8.3" text-anchor="middle" font-weight="bold" fill="#222222">Gene Ontology Biological Process</text>
<clipPath id="cbox"><rect x="281.6" y="399.9" width="104.69999999999999" height="221.39999999999998"/></clipPath>
<circle cx="381.38" cy="411.40" r="2.10" fill="#b71c34" clip-path="url(#cbox)"/>
<line x1="278.30" y1="411.40" x2="281.60" y2="411.40" stroke="#333" stroke-width="1.0"/>
<text x="275.80" y="414.35" font-size="8.3" text-anchor="end" fill="#222222">visual system development</text>
<circle cx="381.38" cy="431.19" r="2.10" fill="#b71c34" clip-path="url(#cbox)"/>
<line x1="278.30" y1="431.19" x2="281.60" y2="431.19" stroke="#333" stroke-width="1.0"/>
<text x="275.80" y="434.14" font-size="8.3" text-anchor="end" fill="#222222">sensory system development</text>
<circle cx="381.38" cy="450.98" r="2.10" fill="#b71c34" clip-path="url(#cbox)"/>
<line x1="278.30" y1="450.98" x2="281.60" y2="450.98" stroke="#333" stroke-width="1.0"/>
<text x="275.80" y="453.93" font-size="8.3" text-anchor="end" fill="#222222">eye development</text>
<circle cx="365.55" cy="470.77" r="1.90" fill="#3a5fae" clip-path="url(#cbox)"/>
<line x1="278.30" y1="470.77" x2="281.60" y2="470.77" stroke="#333" stroke-width="1.0"/>
<text x="275.80" y="473.72" font-size="8.3" text-anchor="end" fill="#222222">camera-type eye development</text>
<circle cx="318.06" cy="490.56" r="2.80" fill="#3a5fae" clip-path="url(#cbox)"/>
<line x1="278.30" y1="490.56" x2="281.60" y2="490.56" stroke="#333" stroke-width="1.0"/>
<text x="275.80" y="493.51" font-size="8.3" text-anchor="end" fill="#222222">negative regulation of chromosome organization</text>
<circle cx="302.23" cy="510.35" r="4.00" fill="#b71c34" clip-path="url(#cbox)"/>
<line x1="278.30" y1="510.35" x2="281.60" y2="510.35" stroke="#333" stroke-width="1.0"/>
<text x="275.80" y="513.30" font-size="8.3" text-anchor="end" fill="#222222">smooth muscle tissue development</text>
<circle cx="302.23" cy="530.14" r="4.00" fill="#8e1a4c" clip-path="url(#cbox)"/>
<line x1="278.30" y1="530.14" x2="281.60" y2="530.14" stroke="#333" stroke-width="1.0"/>
<text x="275.80" y="533.09" font-size="8.3" text-anchor="end" fill="#222222">protein localization to chromosome, telomeric region</text>
<circle cx="302.23" cy="549.93" r="4.00" fill="#8e1a4c" clip-path="url(#cbox)"/>
<line x1="278.30" y1="549.93" x2="281.60" y2="549.93" stroke="#333" stroke-width="1.0"/>
<text x="275.80" y="552.88" font-size="8.3" text-anchor="end" fill="#222222">negative regulation of telomere maintenance via telomere lengthening</text>
<circle cx="302.23" cy="569.72" r="3.60" fill="#3a5fae" clip-path="url(#cbox)"/>
<line x1="278.30" y1="569.72" x2="281.60" y2="569.72" stroke="#333" stroke-width="1.0"/>
<text x="275.80" y="572.67" font-size="8.3" text-anchor="end" fill="#222222">negative regulation of telomere maintenance</text>
<circle cx="302.23" cy="589.51" r="4.00" fill="#b71c34" clip-path="url(#cbox)"/>
<line x1="278.30" y1="589.51" x2="281.60" y2="589.51" stroke="#333" stroke-width="1.0"/>
<text x="275.80" y="592.46" font-size="8.3" text-anchor="end" fill="#222222">negative regulation of cytosolic calcium ion concentration</text>
<circle cx="286.40" cy="609.30" r="7.40" fill="#b01b35" clip-path="url(#cbox)"/>
<line x1="278.30" y1="609.30" x2="281.60" y2="609.30" stroke="#333" stroke-width="1.0"/>
<text x="275.80" y="612.25" font-size="8.3" text-anchor="end" fill="#222222">regulation of telomeric DNA binding</text>
<rect x="281.6" y="399.9" width="104.70" height="221.40" fill="none" stroke="#777" stroke-width="1.1"/>
<line x1="286.40" y1="621.30" x2="286.40" y2="624.90" stroke="#333" stroke-width="1.0"/>
<text x="286.40" y="633.20" font-size="8.3" text-anchor="middle" fill="#222222">2</text>
<line x1="318.06" y1="621.30" x2="318.06" y2="624.90" stroke="#333" stroke-width="1.0"/>
<text x="318.06" y="633.20" font-size="8.3" text-anchor="middle" fill="#222222">4</text>
<line x1="349.72" y1="621.30" x2="349.72" y2="624.90" stroke="#333" stroke-width="1.0"/>
<text x="349.72" y="633.20" font-size="8.3" text-anchor="middle" fill="#222222">6</text>
<line x1="381.38" y1="621.30" x2="381.38" y2="624.90" stroke="#333" stroke-width="1.0"/>
<text x="381.38" y="633.20" font-size="8.3" text-anchor="middle" fill="#222222">8</text>
<text x="333.80" y="644.60" font-size="8.3" text-anchor="middle" fill="#222222">Count</text>
<defs><linearGradient id="gq" x1="0" y1="0" x2="0" y2="1"><stop offset="0" stop-color="#b41c34"/><stop offset="0.16" stop-color="#a41b40"/><stop offset="0.38" stop-color="#87195a"/><stop offset="0.6" stop-color="#62297a"/><stop offset="0.8" stop-color="#4a4496"/><stop offset="1" stop-color="#3a5ca8"/></linearGradient></defs>
<rect x="400.10" y="428.90" width="9.70" height="58.90" fill="url(#gq)"/>
<line x1="400.10" y1="438.10" x2="402.00" y2="438.10" stroke="#fff" stroke-width="0.9"/>
<line x1="407.90" y1="438.10" x2="409.80" y2="438.10" stroke="#fff" stroke-width="0.9"/>
<text x="411.90" y="441.05" font-size="8.3" text-anchor="start" fill="#222222">1.50</text>
<line x1="400.10" y1="451.20" x2="402.00" y2="451.20" stroke="#fff" stroke-width="0.9"/>
<line x1="407.90" y1="451.20" x2="409.80" y2="451.20" stroke="#fff" stroke-width="0.9"/>
<text x="411.90" y="454.15" font-size="8.3" text-anchor="start" fill="#222222">1.45</text>
<line x1="400.10" y1="464.10" x2="402.00" y2="464.10" stroke="#fff" stroke-width="0.9"/>
<line x1="407.90" y1="464.10" x2="409.80" y2="464.10" stroke="#fff" stroke-width="0.9"/>
<text x="411.90" y="467.05" font-size="8.3" text-anchor="start" fill="#222222">1.40</text>
<line x1="400.10" y1="475.80" x2="402.00" y2="475.80" stroke="#fff" stroke-width="0.9"/>
<line x1="407.90" y1="475.80" x2="409.80" y2="475.80" stroke="#fff" stroke-width="0.9"/>
<text x="411.90" y="478.75" font-size="8.3" text-anchor="start" fill="#222222">1.35</text>
<text x="400.30" y="425.40" font-size="8.3" text-anchor="start" fill="#222222">-Log10(q)</text>
<text x="401.00" y="505.60" font-size="8.3" text-anchor="start" fill="#222222">Ratio</text>
<rect x="401.6" y="510.70" width="17.4" height="10.80" fill="#fff" stroke="#cfcfcf" stroke-width="1"/>
<circle cx="410.30" cy="516.10" r="4.40" fill="#000"/>
<text x="421.60" y="519.05" font-size="8.3" text-anchor="start" fill="#222222">0.1</text>
<rect x="401.6" y="526.20" width="17.4" height="12.80" fill="#fff" stroke="#cfcfcf" stroke-width="1"/>
<circle cx="410.30" cy="532.60" r="5.50" fill="#000"/>
<text x="421.60" y="535.55" font-size="8.3" text-anchor="start" fill="#222222">0.2</text>
<rect x="401.6" y="543.30" width="17.4" height="14.80" fill="#fff" stroke="#cfcfcf" stroke-width="1"/>
<circle cx="410.30" cy="550.70" r="6.30" fill="#000"/>
<text x="421.60" y="553.65" font-size="8.3" text-anchor="start" fill="#222222">0.3</text>
<rect x="401.6" y="562.40" width="17.4" height="17.10" fill="#fff" stroke="#cfcfcf" stroke-width="1"/>
<circle cx="410.30" cy="570.95" r="7.00" fill="#000"/>
<text x="421.60" y="573.90" font-size="8.3" text-anchor="start" fill="#222222">0.4</text>
<rect x="401.6" y="583.20" width="17.4" height="17.60" fill="#fff" stroke="#cfcfcf" stroke-width="1"/>
<circle cx="410.30" cy="592.00" r="7.40" fill="#000"/>
<text x="421.60" y="594.95" font-size="8.3" text-anchor="start" fill="#222222">0.5</text>
<text x="425.80" y="166.80" font-size="8.2" text-anchor="start" font-weight="bold" fill="#222222">d</text>
<text x="577.40" y="167.50" font-size="8.3" text-anchor="middle" font-weight="bold" fill="#222222">Genetic Correlation</text>
<rect x="602.40" y="175.80" width="13.60" height="13.82" fill="#d86754"/>
<text x="609.20" y="184.41" font-size="5.95" text-anchor="middle" fill="#ffffff">0.66</text>
<line x1="597.90" y1="182.41" x2="602.40" y2="182.41" stroke="#222222" stroke-width="1.1"/>
<text x="594.10" y="185.36" font-size="8.3" text-anchor="end" fill="#222222">Hours of exposure to tobacco at home</text>
<text x="622.50" y="185.36" font-size="8.3" text-anchor="middle" fill="#222222">***</text>
<rect x="602.40" y="189.02" width="13.60" height="13.82" fill="#e28068"/>
<text x="609.20" y="197.63" font-size="5.95" text-anchor="middle" fill="#ffffff">0.54</text>
<line x1="597.90" y1="195.63" x2="602.40" y2="195.63" stroke="#222222" stroke-width="1.1"/>
<text x="594.10" y="198.58" font-size="8.3" text-anchor="end" fill="#222222">Smokers in household</text>
<text x="622.50" y="198.58" font-size="8.3" text-anchor="middle" fill="#222222">***</text>
<rect x="602.40" y="202.24" width="13.60" height="13.82" fill="#e28068"/>
<text x="609.20" y="210.85" font-size="5.95" text-anchor="middle" fill="#ffffff">0.54</text>
<line x1="597.90" y1="208.85" x2="602.40" y2="208.85" stroke="#222222" stroke-width="1.1"/>
<text x="594.10" y="211.80" font-size="8.3" text-anchor="end" fill="#222222">Body mass index (BMI)</text>
<text x="622.50" y="211.80" font-size="8.3" text-anchor="middle" fill="#222222">***</text>
<rect x="602.40" y="215.46" width="13.60" height="13.82" fill="#e58a70"/>
<text x="609.20" y="224.07" font-size="5.95" text-anchor="middle" fill="#3a3a3a">0.49</text>
<line x1="597.90" y1="222.07" x2="602.40" y2="222.07" stroke="#222222" stroke-width="1.1"/>
<text x="594.10" y="225.02" font-size="8.3" text-anchor="end" fill="#222222">Mood swings</text>
<text x="622.50" y="225.02" font-size="8.3" text-anchor="middle" fill="#222222">***</text>
<rect x="602.40" y="228.68" width="13.60" height="13.82" fill="#e58c72"/>
<text x="609.20" y="237.29" font-size="5.95" text-anchor="middle" fill="#3a3a3a">0.48</text>
<line x1="597.90" y1="235.29" x2="602.40" y2="235.29" stroke="#222222" stroke-width="1.1"/>
<text x="594.10" y="238.24" font-size="8.3" text-anchor="end" fill="#222222">Sleeplessness/insomnia</text>
<text x="622.50" y="238.24" font-size="8.3" text-anchor="middle" fill="#222222">***</text>
<rect x="602.40" y="241.90" width="13.60" height="13.82" fill="#e68f76"/>
<text x="609.20" y="250.51" font-size="5.95" text-anchor="middle" fill="#3a3a3a">0.46</text>
<line x1="597.90" y1="248.51" x2="602.40" y2="248.51" stroke="#222222" stroke-width="1.1"/>
<text x="594.10" y="251.46" font-size="8.3" text-anchor="end" fill="#222222">Loneliness</text>
<text x="622.50" y="251.46" font-size="8.3" text-anchor="middle" fill="#222222">***</text>
<rect x="602.40" y="255.12" width="13.60" height="13.82" fill="#e68f76"/>
<text x="609.20" y="263.73" font-size="5.95" text-anchor="middle" fill="#3a3a3a">0.46</text>
<line x1="597.90" y1="261.73" x2="602.40" y2="261.73" stroke="#222222" stroke-width="1.1"/>
<text x="594.10" y="264.68" font-size="8.3" text-anchor="end" fill="#222222">Fed-up feelings</text>
<text x="622.50" y="264.68" font-size="8.3" text-anchor="middle" fill="#222222">***</text>
<rect x="602.40" y="268.34" width="13.60" height="13.82" fill="#e6937a"/>
<text x="609.20" y="276.95" font-size="5.95" text-anchor="middle" fill="#3a3a3a">0.44</text>
<line x1="597.90" y1="274.95" x2="602.40" y2="274.95" stroke="#222222" stroke-width="1.1"/>
<text x="594.10" y="277.90" font-size="8.3" text-anchor="end" fill="#222222">Diastolic blood pressure</text>
<text x="622.50" y="277.90" font-size="8.3" text-anchor="middle" fill="#222222">***</text>
<rect x="602.40" y="281.56" width="13.60" height="13.82" fill="#e6947b"/>
<text x="609.20" y="290.17" font-size="5.95" text-anchor="middle" fill="#3a3a3a">0.43</text>
<line x1="597.90" y1="288.17" x2="602.40" y2="288.17" stroke="#222222" stroke-width="1.1"/>
<text x="594.10" y="291.12" font-size="8.3" text-anchor="end" fill="#222222">Alcohol intake vs. 10 years previously</text>
<text x="622.50" y="291.12" font-size="8.3" text-anchor="middle" fill="#222222">***</text>
<rect x="602.40" y="294.78" width="13.60" height="13.82" fill="#e79a81"/>
<text x="609.20" y="303.39" font-size="5.95" text-anchor="middle" fill="#3a3a3a">0.40</text>
<line x1="597.90" y1="301.39" x2="602.40" y2="301.39" stroke="#222222" stroke-width="1.1"/>
<text x="594.10" y="304.34" font-size="8.3" text-anchor="end" fill="#222222">Weight</text>
<text x="622.50" y="304.34" font-size="8.3" text-anchor="middle" fill="#222222">***</text>
<rect x="602.40" y="308.00" width="13.60" height="13.82" fill="#e79d85"/>
<text x="609.20" y="316.61" font-size="5.95" text-anchor="middle" fill="#3a3a3a">0.38</text>
<line x1="597.90" y1="314.61" x2="602.40" y2="314.61" stroke="#222222" stroke-width="1.1"/>
<text x="594.10" y="317.56" font-size="8.3" text-anchor="end" fill="#222222">Alcohol intake frequency</text>
<text x="622.50" y="317.56" font-size="8.3" text-anchor="middle" fill="#222222">***</text>
<rect x="602.40" y="321.22" width="13.60" height="13.82" fill="#e79d85"/>
<text x="609.20" y="329.83" font-size="5.95" text-anchor="middle" fill="#3a3a3a">0.38</text>
<line x1="597.90" y1="327.83" x2="602.40" y2="327.83" stroke="#222222" stroke-width="1.1"/>
<text x="594.10" y="330.78" font-size="8.3" text-anchor="end" fill="#222222">Systolic blood pressure</text>
<text x="622.50" y="330.78" font-size="8.3" text-anchor="middle" fill="#222222">***</text>
<rect x="602.40" y="334.44" width="13.60" height="13.82" fill="#e79f87"/>
<text x="609.20" y="343.05" font-size="5.95" text-anchor="middle" fill="#3a3a3a">0.37</text>
<line x1="597.90" y1="341.05" x2="602.40" y2="341.05" stroke="#222222" stroke-width="1.1"/>
<text x="594.10" y="344.00" font-size="8.3" text-anchor="end" fill="#222222">Miserableness</text>
<text x="622.50" y="344.00" font-size="8.3" text-anchor="middle" fill="#222222">***</text>
<rect x="602.40" y="347.66" width="13.60" height="13.82" fill="#e9af98"/>
<text x="609.20" y="356.27" font-size="5.95" text-anchor="middle" fill="#3a3a3a">0.28</text>
<line x1="597.90" y1="354.27" x2="602.40" y2="354.27" stroke="#222222" stroke-width="1.1"/>
<text x="594.10" y="357.22" font-size="8.3" text-anchor="end" fill="#222222">Tens/highly strung</text>
<text x="622.50" y="357.22" font-size="8.3" text-anchor="middle" fill="#222222">***</text>
<rect x="602.40" y="360.88" width="13.60" height="13.82" fill="#e8b6a0"/>
<text x="609.20" y="369.49" font-size="5.95" text-anchor="middle" fill="#3a3a3a">0.24</text>
<line x1="597.90" y1="367.49" x2="602.40" y2="367.49" stroke="#222222" stroke-width="1.1"/>
<text x="594.10" y="370.44" font-size="8.3" text-anchor="end" fill="#222222">Ever smoked</text>
<text x="622.50" y="370.44" font-size="8.3" text-anchor="middle" fill="#222222">***</text>
<rect x="602.40" y="374.10" width="13.60" height="13.82" fill="#e8b7a3"/>
<text x="609.20" y="382.71" font-size="5.95" text-anchor="middle" fill="#3a3a3a">0.23</text>
<line x1="597.90" y1="380.71" x2="602.40" y2="380.71" stroke="#222222" stroke-width="1.1"/>
<text x="594.10" y="383.66" font-size="8.3" text-anchor="end" fill="#222222">Irritability</text>
<text x="622.50" y="383.66" font-size="8.3" text-anchor="middle" fill="#222222">***</text>
<rect x="602.40" y="387.32" width="13.60" height="13.82" fill="#e7b9a5"/>
<text x="609.20" y="395.93" font-size="5.95" text-anchor="middle" fill="#3a3a3a">0.22</text>
<line x1="597.90" y1="393.93" x2="602.40" y2="393.93" stroke="#222222" stroke-width="1.1"/>
<text x="594.10" y="396.88" font-size="8.3" text-anchor="end" fill="#222222">Sensitivity/hurt feelings</text>
<text x="622.50" y="396.88" font-size="8.3" text-anchor="middle" fill="#222222">***</text>
<rect x="602.40" y="400.54" width="13.60" height="13.82" fill="#e7b9a5"/>
<text x="609.20" y="409.15" font-size="5.95" text-anchor="middle" fill="#3a3a3a">0.22</text>
<line x1="597.90" y1="407.15" x2="602.40" y2="407.15" stroke="#222222" stroke-width="1.1"/>
<text x="594.10" y="410.10" font-size="8.3" text-anchor="end" fill="#222222">Suffer from nerves</text>
<text x="622.50" y="410.10" font-size="8.3" text-anchor="middle" fill="#222222">***</text>
<rect x="602.40" y="413.76" width="13.60" height="13.82" fill="#e5bdac"/>
<text x="609.20" y="422.37" font-size="5.95" text-anchor="middle" fill="#3a3a3a">0.19</text>
<line x1="597.90" y1="420.37" x2="602.40" y2="420.37" stroke="#222222" stroke-width="1.1"/>
<text x="594.10" y="423.32" font-size="8.3" text-anchor="end" fill="#222222">Risk taking</text>
<text x="622.50" y="423.32" font-size="8.3" text-anchor="middle" fill="#222222">***</text>
<rect x="602.40" y="426.98" width="13.60" height="13.82" fill="#e5bfaf"/>
<text x="609.20" y="435.59" font-size="5.95" text-anchor="middle" fill="#3a3a3a">0.18</text>
<line x1="597.90" y1="433.59" x2="602.40" y2="433.59" stroke="#222222" stroke-width="1.1"/>
<text x="594.10" y="436.54" font-size="8.3" text-anchor="end" fill="#222222">Pulse rate</text>
<text x="622.50" y="436.54" font-size="8.3" text-anchor="middle" fill="#222222">***</text>
<rect x="602.40" y="440.20" width="13.60" height="13.82" fill="#e5bfaf"/>
<text x="609.20" y="448.81" font-size="5.95" text-anchor="middle" fill="#3a3a3a">0.18</text>
<line x1="597.90" y1="446.81" x2="602.40" y2="446.81" stroke="#222222" stroke-width="1.1"/>
<text x="594.10" y="449.76" font-size="8.3" text-anchor="end" fill="#222222">Nap during the day</text>
<text x="622.50" y="449.76" font-size="8.3" text-anchor="middle" fill="#222222">***</text>
<rect x="602.40" y="453.42" width="13.60" height="13.82" fill="#e4c0b1"/>
<text x="609.20" y="462.03" font-size="5.95" text-anchor="middle" fill="#3a3a3a">0.17</text>
<line x1="597.90" y1="460.03" x2="602.40" y2="460.03" stroke="#222222" stroke-width="1.1"/>
<text x="594.10" y="462.98" font-size="8.3" text-anchor="end" fill="#222222">Guilty feeling</text>
<text x="622.50" y="462.98" font-size="8.3" text-anchor="middle" fill="#222222">***</text>
<rect x="602.40" y="466.64" width="13.60" height="13.82" fill="#e4c2b4"/>
<text x="609.20" y="475.25" font-size="5.95" text-anchor="middle" fill="#3a3a3a">0.16</text>
<line x1="597.90" y1="473.25" x2="602.40" y2="473.25" stroke="#222222" stroke-width="1.1"/>
<text x="594.10" y="476.20" font-size="8.3" text-anchor="end" fill="#222222">Daytime dozing (narcolepsy)</text>
<text x="622.50" y="476.20" font-size="8.3" text-anchor="middle" fill="#222222">***</text>
<rect x="602.40" y="479.86" width="13.60" height="13.82" fill="#e2c5b8"/>
<text x="609.20" y="488.47" font-size="5.95" text-anchor="middle" fill="#3a3a3a">0.14</text>
<line x1="597.90" y1="486.47" x2="602.40" y2="486.47" stroke="#222222" stroke-width="1.1"/>
<text x="594.10" y="489.42" font-size="8.3" text-anchor="end" fill="#222222">Worrier/anxious feelings</text>
<text x="622.50" y="489.42" font-size="8.3" text-anchor="middle" fill="#222222">***</text>
<rect x="602.40" y="493.08" width="13.60" height="13.82" fill="#ddd2ce"/>
<text x="609.20" y="501.69" font-size="5.95" text-anchor="middle" fill="#3a3a3a">0.05</text>
<line x1="597.90" y1="499.69" x2="602.40" y2="499.69" stroke="#222222" stroke-width="1.1"/>
<text x="594.10" y="502.64" font-size="8.3" text-anchor="end" fill="#222222">Nervous feelings</text>
<rect x="602.40" y="506.30" width="13.60" height="13.82" fill="#dbd7d5"/>
<text x="609.20" y="514.91" font-size="5.95" text-anchor="middle" fill="#3a3a3a">0.02</text>
<line x1="597.90" y1="512.91" x2="602.40" y2="512.91" stroke="#222222" stroke-width="1.1"/>
<text x="594.10" y="515.86" font-size="8.3" text-anchor="end" fill="#222222">Worry too long after embarrassment</text>
<rect x="602.40" y="519.52" width="13.60" height="13.82" fill="#ced4db"/>
<text x="608.60" y="528.13" font-size="5.95" text-anchor="middle" fill="#3a3a3a">-0.05</text>
<line x1="597.90" y1="526.13" x2="602.40" y2="526.13" stroke="#222222" stroke-width="1.1"/>
<text x="594.10" y="529.08" font-size="8.3" text-anchor="end" fill="#222222">Chronotype</text>
<text x="622.50" y="529.08" font-size="8.3" text-anchor="middle" fill="#222222">*</text>
<rect x="602.40" y="532.74" width="13.60" height="13.82" fill="#ccd2dc"/>
<text x="608.60" y="541.35" font-size="5.95" text-anchor="middle" fill="#3a3a3a">-0.06</text>
<line x1="597.90" y1="539.35" x2="602.40" y2="539.35" stroke="#222222" stroke-width="1.1"/>
<text x="594.10" y="542.30" font-size="8.3" text-anchor="end" fill="#222222">Getting up in the morning</text>
<text x="622.50" y="542.30" font-size="8.3" text-anchor="middle" fill="#222222">*</text>
<rect x="602.40" y="545.96" width="13.60" height="13.82" fill="#a7bee0"/>
<text x="608.60" y="554.57" font-size="5.95" text-anchor="middle" fill="#3a3a3a">-0.22</text>
<line x1="597.90" y1="552.57" x2="602.40" y2="552.57" stroke="#222222" stroke-width="1.1"/>
<text x="594.10" y="555.52" font-size="8.3" text-anchor="end" fill="#222222">Hand grip strength (left)</text>
<text x="622.50" y="555.52" font-size="8.3" text-anchor="middle" fill="#222222">***</text>
<rect x="602.40" y="559.18" width="13.60" height="13.82" fill="#a7bee0"/>
<text x="608.60" y="567.79" font-size="5.95" text-anchor="middle" fill="#3a3a3a">-0.22</text>
<line x1="597.90" y1="565.79" x2="602.40" y2="565.79" stroke="#222222" stroke-width="1.1"/>
<text x="594.10" y="568.74" font-size="8.3" text-anchor="end" fill="#222222">Able to confide</text>
<text x="622.50" y="568.74" font-size="8.3" text-anchor="middle" fill="#222222">***</text>
<rect x="602.40" y="572.40" width="13.60" height="13.82" fill="#a5bde0"/>
<text x="608.60" y="581.01" font-size="5.95" text-anchor="middle" fill="#3a3a3a">-0.23</text>
<line x1="597.90" y1="579.01" x2="602.40" y2="579.01" stroke="#222222" stroke-width="1.1"/>
<text x="594.10" y="581.96" font-size="8.3" text-anchor="end" fill="#222222">Hand grip strength (right)</text>
<text x="622.50" y="581.96" font-size="8.3" text-anchor="middle" fill="#222222">***</text>
<rect x="602.40" y="585.62" width="13.60" height="13.82" fill="#a2bbe1"/>
<text x="608.60" y="594.23" font-size="5.95" text-anchor="middle" fill="#3a3a3a">-0.24</text>
<line x1="597.90" y1="592.23" x2="602.40" y2="592.23" stroke="#222222" stroke-width="1.1"/>
<text x="594.10" y="595.18" font-size="8.3" text-anchor="end" fill="#222222">Sleep duration</text>
<text x="622.50" y="595.18" font-size="8.3" text-anchor="middle" fill="#222222">***</text>
<rect x="602.40" y="598.84" width="13.60" height="13.82" fill="#96b1dd"/>
<text x="608.60" y="607.45" font-size="5.95" text-anchor="middle" fill="#3a3a3a">-0.30</text>
<line x1="597.90" y1="605.45" x2="602.40" y2="605.45" stroke="#222222" stroke-width="1.1"/>
<text x="594.10" y="608.40" font-size="8.3" text-anchor="end" fill="#222222">Past tobacco smoking</text>
<text x="622.50" y="608.40" font-size="8.3" text-anchor="middle" fill="#222222">***</text>
<rect x="602.40" y="612.06" width="13.60" height="13.22" fill="#678ac8"/>
<text x="608.60" y="620.67" font-size="5.95" text-anchor="middle" fill="#ffffff">-0.54</text>
<line x1="597.90" y1="618.67" x2="602.40" y2="618.67" stroke="#222222" stroke-width="1.1"/>
<text x="594.10" y="621.62" font-size="8.3" text-anchor="end" fill="#222222">Average total household income</text>
<text x="622.50" y="621.62" font-size="8.3" text-anchor="middle" fill="#222222">***</text>
<rect x="602.95" y="493.58" width="12.50" height="12.72" fill="none" stroke="#1f8a47" stroke-width="1.15" stroke-dasharray="3.1 1.6"/>
<rect x="602.95" y="506.30" width="12.50" height="12.72" fill="none" stroke="#1f8a47" stroke-width="1.15" stroke-dasharray="3.1 1.6"/>
<line x1="609.20" y1="625.28" x2="609.20" y2="629.18" stroke="#222222" stroke-width="1.1"/>
<text x="609.00" y="639.30" font-size="8.3" text-anchor="middle" fill="#222222">d factor score</text>
<defs><linearGradient id="gd" x1="0" y1="0" x2="0" y2="1"><stop offset="0.000" stop-color="#ac162a"/><stop offset="0.125" stop-color="#d05446"/><stop offset="0.250" stop-color="#e5886e"/><stop offset="0.375" stop-color="#e9b49e"/><stop offset="0.500" stop-color="#dadada"/><stop offset="0.625" stop-color="#a0bae1"/><stop offset="0.750" stop-color="#6c8fcc"/><stop offset="0.875" stop-color="#4e6eb5"/><stop offset="1.000" stop-color="#304e9e"/></linearGradient></defs>
<rect x="638.90" y="333.30" width="6.80" height="134.40" fill="url(#gd)"/>
<line x1="645.70" y1="333.60" x2="649.40" y2="333.60" stroke="#222222" stroke-width="1.1"/>
<text x="653.60" y="336.55" font-size="8.3" text-anchor="start" fill="#222222">1.00</text>
<line x1="645.70" y1="350.36" x2="649.40" y2="350.36" stroke="#222222" stroke-width="1.1"/>
<text x="653.60" y="353.31" font-size="8.3" text-anchor="start" fill="#222222">0.75</text>
<line x1="645.70" y1="367.12" x2="649.40" y2="367.12" stroke="#222222" stroke-width="1.1"/>
<text x="653.60" y="370.07" font-size="8.3" text-anchor="start" fill="#222222">0.50</text>
<line x1="645.70" y1="383.88" x2="649.40" y2="383.88" stroke="#222222" stroke-width="1.1"/>
<text x="653.60" y="386.83" font-size="8.3" text-anchor="start" fill="#222222">0.25</text>
<line x1="645.70" y1="400.64" x2="649.40" y2="400.64" stroke="#222222" stroke-width="1.1"/>
<text x="653.60" y="403.59" font-size="8.3" text-anchor="start" fill="#222222">0.00</text>
<line x1="645.70" y1="417.40" x2="649.40" y2="417.40" stroke="#222222" stroke-width="1.1"/>
<text x="653.60" y="420.35" font-size="8.3" text-anchor="start" fill="#222222">−0.25</text>
<line x1="645.70" y1="434.16" x2="649.40" y2="434.16" stroke="#222222" stroke-width="1.1"/>
<text x="653.60" y="437.11" font-size="8.3" text-anchor="start" fill="#222222">−0.50</text>
<line x1="645.70" y1="450.92" x2="649.40" y2="450.92" stroke="#222222" stroke-width="1.1"/>
<text x="653.60" y="453.87" font-size="8.3" text-anchor="start" fill="#222222">−0.75</text>
<line x1="645.70" y1="467.68" x2="649.40" y2="467.68" stroke="#222222" stroke-width="1.1"/>
<text x="653.60" y="470.63" font-size="8.3" text-anchor="start" fill="#222222">−1.00</text>
</svg></body></html>
